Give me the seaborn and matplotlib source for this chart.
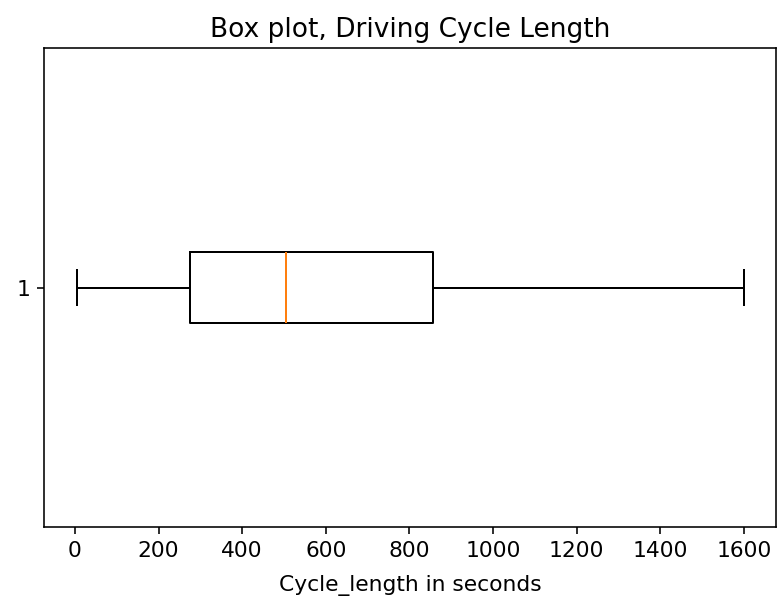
import matplotlib
matplotlib.use("Agg")
import matplotlib.pyplot as plt
import seaborn as sns
import pandas as pd

# Data (five-number summary)
cycle_length = [6, 275, 505, 856, 1600]
group = ["1"] * len(cycle_length)

df = pd.DataFrame({"Cycle_length": cycle_length, "group": group})

DPI = 144
fig = plt.figure(figsize=(777 / DPI, 599 / DPI), dpi=DPI)
ax = fig.add_axes([44 / 777, 1 - 527 / 599, (776 - 44) / 777, (527 - 48) / 599])

sns.boxplot(
    data=df, x="Cycle_length", y="group", orient="h", ax=ax,
    width=0.15, fill=False, color="black", linewidth=1.0, whis=1.5,
    medianprops=dict(color="#ff7f0e", linewidth=1.0),
    showfliers=False,
)

ax.set_title("Box plot, Driving Cycle Length", fontsize=13.2, pad=5.5)
ax.set_xlabel("Cycle_length in seconds", fontsize=10.9, labelpad=7)
ax.set_ylabel("")
ax.set_xticks([0, 200, 400, 600, 800, 1000, 1200, 1400, 1600])
ax.tick_params(labelsize=10.9)
ax.set_ylim(0.5, -0.5)
ax.set_xlim(-74, 1677)
for s in ax.spines.values():
    s.set_visible(True)
    s.set_color("black")
    s.set_linewidth(0.8)
ax.grid(False)

fig.savefig("out.png", dpi=DPI)
